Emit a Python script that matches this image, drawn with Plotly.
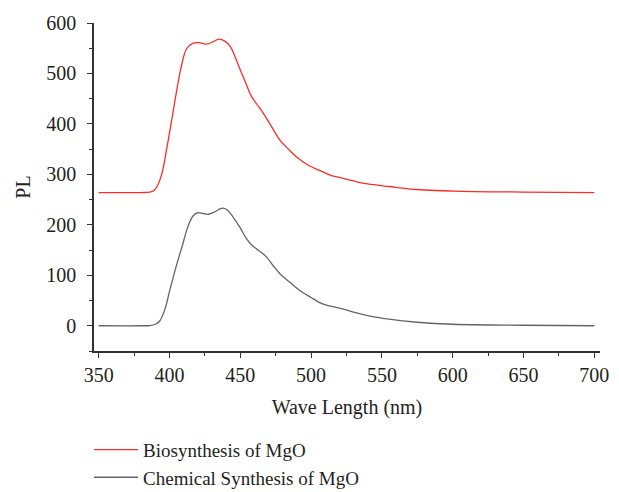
import plotly.graph_objects as go

# Biosynthesis of MgO (red)
bio_x = [350, 380, 386, 389, 391, 394.5, 398, 401.6, 405.1, 408.6, 412.1, 416.8, 421, 426, 431, 435, 439, 443, 446, 450,
         454, 458, 462, 467, 472, 478, 484, 490, 498, 506, 514, 520, 530, 540, 555, 575, 600, 650, 700]
bio_y = [264, 264, 265, 268, 275, 300, 350, 408, 466, 517, 549, 560, 561, 558, 563, 568, 564, 553, 535, 507,
         480, 454, 438, 418, 395, 368, 350, 334, 318, 308, 298, 294, 287, 281, 276, 270, 267, 265, 264]

# Chemical Synthesis of MgO (gray)
chem_x = [350, 380, 386, 390, 393, 396.8, 400, 403, 406, 409, 412, 414.5, 417, 420, 424, 427.5, 432, 436, 438,
          441, 445, 450, 454.5, 458, 461.6, 465, 468.6, 473, 478, 485, 492, 500, 506, 512, 520, 530, 540, 555, 575,
          600, 650, 700]
chem_y = [0, 0, 0.5, 3, 9, 33, 68, 100, 130, 158, 188, 207, 219, 224, 222, 221, 226, 232, 233,
          229, 215, 194, 172, 160, 152, 145, 136, 120, 103, 86, 70, 56, 46, 40, 35, 27, 20, 13, 7,
          3, 1, 0]

x_ticks = [350, 400, 450, 500, 550, 600, 650, 700]
y_ticks = [0, 100, 200, 300, 400, 500, 600]

FONT = "Liberation Serif"
FS = 20

fig = go.Figure()
fig.add_trace(go.Scatter(x=bio_x, y=bio_y, mode="lines", name="Biosynthesis of MgO",
                         line=dict(color="rgb(250,45,40)", width=1.3, shape="spline", smoothing=1.0)))
fig.add_trace(go.Scatter(x=chem_x, y=chem_y, mode="lines", name="Chemical Synthesis of MgO",
                         line=dict(color="rgb(100,100,100)", width=1.3, shape="spline", smoothing=1.0)))

axis_common = dict(showline=True, linecolor="#333", linewidth=1.5, ticks="outside", ticklen=5,
                   tickwidth=1.3, tickcolor="#333", showgrid=False, zeroline=False, automargin=False,
                   tickfont=dict(family=FONT, size=FS, color="#231f20"))

fig.update_layout(
    width=619, height=492,
    margin=dict(l=86, r=27, t=15, b=149, autoexpand=False),
    paper_bgcolor="white", plot_bgcolor="white",
    font=dict(family=FONT, size=FS, color="#231f20"),
    xaxis=dict(range=[346.7, 704], tickvals=x_ticks, ticklabelstandoff=0,
               title=dict(text="Wave Length (nm)", font=dict(family=FONT, size=FS), standoff=15),
               minor=dict(dtick=25, tick0=0, ticklen=3, ticks="outside", tickcolor="#333", tickwidth=1.2),
               **axis_common),
    yaxis=dict(range=[-50, 600], tickvals=y_ticks, ticklabelstandoff=7,
               title=dict(text="PL", font=dict(family=FONT, size=FS), standoff=10),
               minor=dict(dtick=50, tick0=0, ticklen=3, ticks="outside", tickcolor="#333", tickwidth=1.2),
               **axis_common),
    legend=dict(x=-0.0098, y=-0.243, xanchor="left", yanchor="top", orientation="v",
                font=dict(family=FONT, size=19, color="#231f20"), bgcolor="rgba(0,0,0,0)",
                tracegroupgap=0, itemwidth=44),
    showlegend=True,
)

fig.write_html("out.html")
